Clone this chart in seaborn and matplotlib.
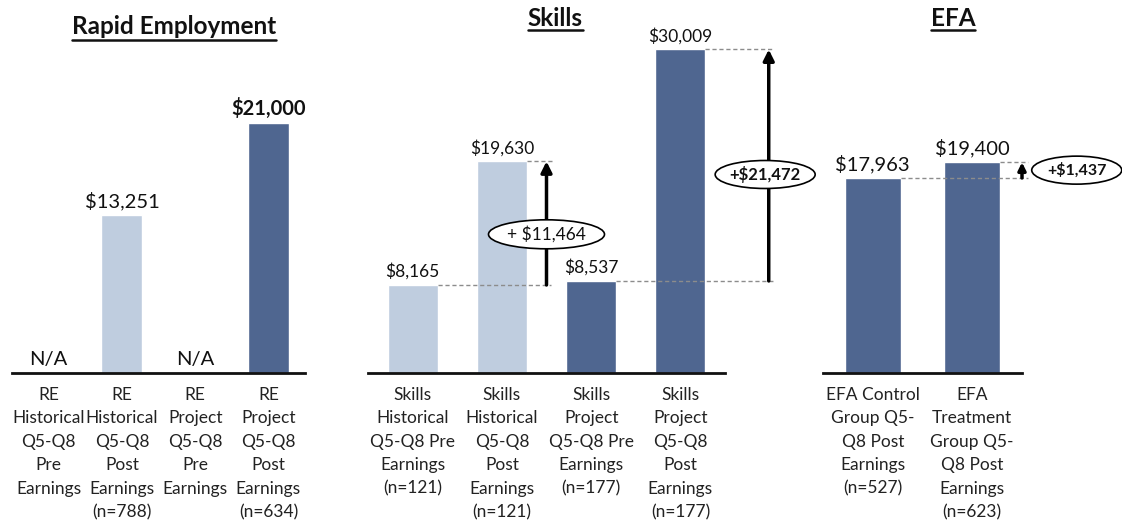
import numpy as np
import pandas as pd
import seaborn as sns
from matplotlib import pyplot as plt
from matplotlib.lines import Line2D
from matplotlib.patches import Ellipse

# ========================================================
sns.set_theme(style="white")
plt.rcParams["font.family"] = ["Lato", "DejaVu Sans"]

LIGHT = "#bfcddf"
DARK = "#4f6690"

# ========================================================
re_labels = ["RE\nHistorical\nQ5-Q8\nPre\nEarnings",
             "RE\nHistorical\nQ5-Q8\nPost\nEarnings\n(n=788)",
             "RE\nProject\nQ5-Q8\nPre\nEarnings",
             "RE\nProject\nQ5-Q8\nPost\nEarnings\n(n=634)"]
re_values = [np.nan, 13251, np.nan, 21000]
re_groups = ["Historical", "Historical", "Project", "Project"]

skills_labels = ["Skills\nHistorical\nQ5-Q8 Pre\nEarnings\n(n=121)",
                 "Skills\nHistorical\nQ5-Q8\nPost\nEarnings\n(n=121)",
                 "Skills\nProject\nQ5-Q8 Pre\nEarnings\n(n=177)",
                 "Skills\nProject\nQ5-Q8\nPost\nEarnings\n(n=177)"]
skills_values = [8165, 19630, 8537, 30009]
skills_groups = ["Historical", "Historical", "Project", "Project"]
skills_deltas = ["+ $11,464", "+$21,472"]

efa_labels = ["EFA Control\nGroup Q5-\nQ8 Post\nEarnings\n(n=527)",
              "EFA\nTreatment\nGroup Q5-\nQ8 Post\nEarnings\n(n=623)"]
efa_values = [17963, 19400]
efa_groups = ["Project", "Project"]
efa_delta = "+$1,437"

palette = {"Historical": LIGHT, "Project": DARK}

# ========================================================
W, H = 1122, 529
fig = plt.figure(figsize=(W / 100, H / 100), dpi=100)
BASE = 373


def makeAxes(left, right, ymax):
    ax = fig.add_axes([left / W, (H - BASE) / H, (right - left) / W, BASE / H])
    ax.set_ylim(0, ymax)
    return ax


def makePanel(ax, labels, values, groups, fs, bold=False):
    df = pd.DataFrame({"cat": labels, "val": values, "grp": groups})
    sns.barplot(data=df, x="cat", y="val", hue="grp", palette=palette,
                order=labels, width=0.56, dodge=False, legend=False, ax=ax,
                saturation=1)
    ax.set_xlim(-0.5, len(labels) - 0.5)
    ax.set_xlabel("")
    ax.set_ylabel("")
    ax.set_yticks([])
    for s in ["top", "left", "right"]:
        ax.spines[s].set_visible(False)
    ax.spines["bottom"].set_linewidth(2)
    ax.spines["bottom"].set_color("#111111")
    ax.tick_params(axis="x", length=0, pad=10, labelsize=12.5, colors="#222222")
    for t in ax.get_xticklabels():
        t.set_linespacing(1.57)
    for i, v in enumerate(values):
        txt = "N/A" if np.isnan(v) else f"${v:,.0f}"
        ax.annotate(txt, (i, 0 if np.isnan(v) else v), xytext=(0, 5.8),
                    textcoords="offset points", ha="center", va="baseline",
                    fontsize=fs, fontweight="bold" if (bold and i == len(values) - 1) else "normal",
                    color="#111111")


def dashed(ax, x0, x1, y):
    ax.plot([x0, x1], [y, y], color="#8c8c8c", lw=1, ls=(0, (3, 2)), clip_on=False)


def arrow(ax, x, y0, y1, scale):
    ax.annotate("", xy=(x, y1), xytext=(x, y0), annotation_clip=False,
                arrowprops=dict(arrowstyle="-|>", color="black", lw=2.5,
                                mutation_scale=scale, shrinkA=0, shrinkB=0))


def bubble(ax, x, y, s, fs, weight, wpx, hpx):
    # ellipse sized in pixels, converted to data units of this axis
    bb = ax.get_position()
    x0, x1 = ax.get_xlim()
    y0, y1 = ax.get_ylim()
    w = wpx * (x1 - x0) / (bb.width * W)
    h = hpx * (y1 - y0) / (bb.height * H)
    ax.add_patch(Ellipse((x, y), w, h, fc="white", ec="black", lw=1.2,
                         clip_on=False, zorder=4))
    ax.text(x, y, s, ha="center", va="center", fontsize=fs, fontweight=weight,
            clip_on=False, zorder=5, color="#111111")


# --------------------------------------------------------
ax1 = makeAxes(12, 305, 31380)
makePanel(ax1, re_labels, re_values, re_groups, 14.5, bold=True)

ax2 = makeAxes(368, 725, 34600)
makePanel(ax2, skills_labels, skills_values, skills_groups, 12.5)
half = 0.28
dashed(ax2, 0 + half, 1.55, skills_values[0])
dashed(ax2, 1 + half, 1.57, skills_values[1])
arrow(ax2, 1.5, skills_values[0], skills_values[1], 16)
bubble(ax2, 1.5, skills_values[0] + 0.41 * (skills_values[1] - skills_values[0]),
       skills_deltas[0], 12.5, "normal", 116, 29)
dashed(ax2, 2 + half, 4.05, skills_values[2])
dashed(ax2, 3 + half, 4.05, skills_values[3])
arrow(ax2, 3.99, skills_values[2], skills_values[3], 16)
bubble(ax2, 3.95, skills_values[2] + 0.46 * (skills_values[3] - skills_values[2]),
       skills_deltas[1], 12, "bold", 100, 28)

ax3 = makeAxes(823, 1022, 34350)
makePanel(ax3, efa_labels, efa_values, efa_groups, 14.5)
dashed(ax3, 0 + half, 1.56, efa_values[0])
dashed(ax3, 1 + half, 1.56, efa_values[1])
arrow(ax3, 1.5, efa_values[0], efa_values[1], 11)
bubble(ax3, 2.05, (efa_values[0] + efa_values[1]) / 2, efa_delta, 11.5, "bold", 90, 28)

# ========================================================
# titles, underlined by hand
titles = [("Rapid Employment", 174, 27, 40), ("Skills", 555, 18, 30), ("EFA", 953, 18, 30)]
fig.canvas.draw()
renderer = fig.canvas.get_renderer()
for s, x, y, uy in titles:
    t = fig.text(x / W, 1 - y / H, s, ha="center", va="center", fontsize=17.5,
                 fontweight="bold", color="#111111")
    bb = t.get_window_extent(renderer)
    fig.add_artist(Line2D([bb.x0 / W, bb.x1 / W], [1 - uy / H, 1 - uy / H],
                          transform=fig.transFigure, color="#111111", lw=1.8))

fig.savefig("out.png", dpi=100)
